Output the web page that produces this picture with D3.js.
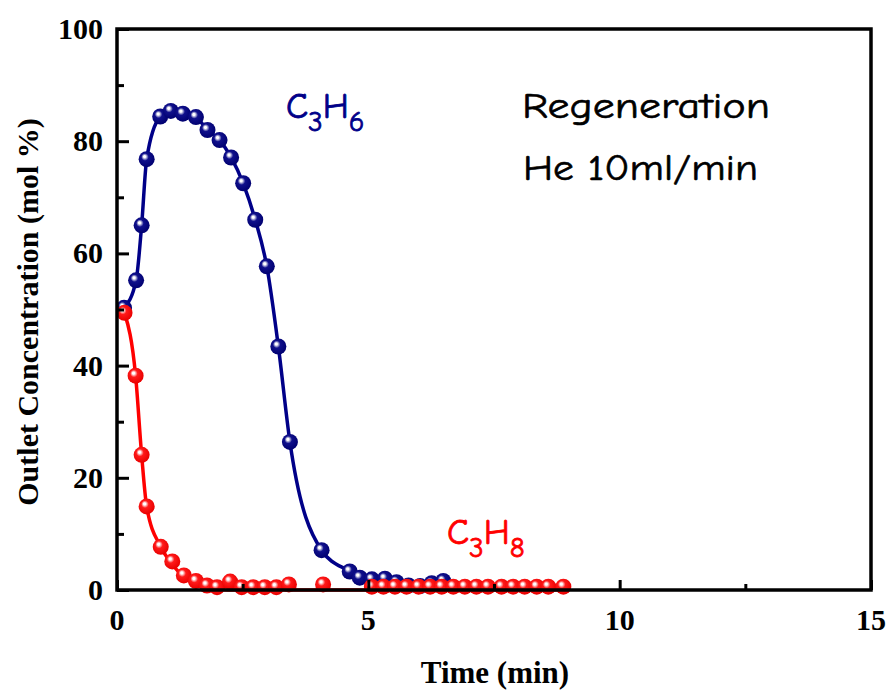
<!DOCTYPE html>
<html lang="en">
<head>
<meta charset="utf-8">
<title>Regeneration - outlet concentration</title>
<script src="https://cdn.jsdelivr.net/npm/d3@7"></script>
<style>
  body { margin: 0; background: #fff; }
</style>
</head>
<body>
<script>
// Time (min) and outlet concentration (mol %)
var c3h6Time = [0.14, 0.38, 0.49, 0.59, 0.86, 1.07, 1.31, 1.57, 1.80, 2.04, 2.27, 2.51, 2.75, 2.98, 3.21, 3.44, 4.07, 4.63, 4.83, 5.07, 5.33, 5.56, 5.80, 6.03, 6.26, 6.49];
var c3h6Conc = [50.3, 55.2, 65.0, 76.8, 84.4, 85.4, 84.9, 84.3, 82.0, 80.2, 77.1, 72.5, 66.0, 57.7, 43.4, 26.4, 7.1, 3.3, 2.2, 1.9, 2.0, 1.4, 0.8, 0.7, 1.2, 1.6];

var c3h8Time = [0.15, 0.37, 0.49, 0.59, 0.87, 1.10, 1.33, 1.57, 1.79, 1.99, 2.25, 2.48, 2.71, 2.94, 3.17, 3.42, 4.10, 5.07, 5.30, 5.53, 5.76, 6.00, 6.23, 6.46, 6.69, 6.92, 7.15, 7.38, 7.65, 7.88, 8.11, 8.35, 8.58, 8.88];
var c3h8Conc = [49.4, 38.2, 24.1, 14.9, 7.7, 5.1, 2.6, 1.6, 0.8, 0.5, 1.5, 0.5, 0.5, 0.5, 0.5, 1.0, 1.0, 0.6, 0.6, 0.6, 0.6, 0.6, 0.6, 0.6, 0.6, 0.6, 0.6, 0.6, 0.6, 0.6, 0.6, 0.6, 0.6, 0.6];

// fitted C3H8 curve as drawn in the figure
var c3h8FitTime = [0.15, 0.37, 0.49, 0.59, 0.87, 1.10, 1.33, 1.57, 1.80, 2.20, 9.0];
var c3h8FitConc = [49.4, 38.2, 24.1, 14.9, 7.7, 4.6, 2.3, 1.0, 0.3, 0, 0];

var xTicks = [0, 5, 10, 15];
var yTicks = [0, 20, 40, 60, 80, 100];

var w = 892, h = 695;
var margin = {left: 117, right: 21, top: 29, bottom: 105};

var svg = d3.select("body").append("svg")
  .attr("width", w)
  .attr("height", h);

var x = d3.scaleLinear().domain([0, 15]).range([margin.left, w - margin.right]);
var y = d3.scaleLinear().domain([0, 100]).range([h - margin.bottom, margin.top]);

// sphere-like marker gradients
var defs = svg.append("defs");
function sphere(id, base, dark) {
  var g = defs.append("radialGradient").attr("id", id)
    .attr("cx", "45%").attr("cy", "42%").attr("r", "58%")
    .attr("fx", "36%").attr("fy", "33%");
  g.append("stop").attr("offset", "0%").attr("stop-color", "#ffffff");
  g.append("stop").attr("offset", "12%").attr("stop-color", "#ffffff");
  g.append("stop").attr("offset", "40%").attr("stop-color", base);
  g.append("stop").attr("offset", "100%").attr("stop-color", dark);
}
sphere("ballBlue", "#10108c", "#000070");
sphere("ballRed", "#ff1a1a", "#e80000");

var blue = "#000088", red = "#ff0000";

// lines
var c3h6Pts = c3h6Time.map(function(t, i) { return [t, c3h6Conc[i]]; });
var c3h8Pts = c3h8Time.map(function(t, i) { return [t, c3h8Conc[i]]; });
var c3h8Fit = c3h8FitTime.map(function(t, i) { return [t, c3h8FitConc[i]]; });

var line = d3.line()
  .x(function(d) { return x(d[0]); })
  .y(function(d) { return y(d[1]); })
  .curve(d3.curveMonotoneX);

svg.append("path").datum(c3h6Pts)
  .attr("d", line).attr("fill", "none")
  .attr("stroke", blue).attr("stroke-width", 3.5);

svg.selectAll("circle.c3h6").data(c3h6Pts).enter()
  .append("circle").attr("class", "c3h6")
  .attr("cx", function(d) { return x(d[0]); })
  .attr("cy", function(d) { return y(d[1]); })
  .attr("r", 8)
  .attr("fill", "url(#ballBlue)");

svg.append("path").datum(c3h8Fit)
  .attr("d", line).attr("fill", "none")
  .attr("stroke", red).attr("stroke-width", 3.5);

svg.selectAll("circle.c3h8").data(c3h8Pts).enter()
  .append("circle").attr("class", "c3h8")
  .attr("cx", function(d) { return x(d[0]); })
  .attr("cy", function(d) { return y(d[1]); })
  .attr("r", 8)
  .attr("fill", "url(#ballRed)");

// frame
svg.append("rect")
  .attr("x", x(0)).attr("y", y(100))
  .attr("width", x(15) - x(0)).attr("height", y(0) - y(100))
  .attr("fill", "none").attr("stroke", "#000").attr("stroke-width", 3.5);

// axes with inward ticks
var xAxis = svg.append("g").attr("transform", "translate(0," + y(0) + ")")
  .call(d3.axisBottom(x).tickValues(d3.range(0, 15.1, 2.5)).tickSize(0).tickFormat(""));
xAxis.select(".domain").remove();
xAxis.selectAll(".tick line")
  .attr("y2", function(d) { return d % 5 === 0 ? -10 : -6; })
  .attr("stroke", "#000").attr("stroke-width", 3);

var yAxis = svg.append("g").attr("transform", "translate(" + x(0) + ",0)")
  .call(d3.axisLeft(y).tickValues(d3.range(0, 100.1, 10)).tickSize(0).tickFormat(""));
yAxis.select(".domain").remove();
yAxis.selectAll(".tick line")
  .attr("x2", function(d) { return d % 20 === 0 ? 12 : 7; })
  .attr("stroke", "#000").attr("stroke-width", 3);

// tick labels
var tickFont = "'Liberation Serif', 'Times New Roman', serif";
svg.selectAll("text.xt").data(xTicks).enter()
  .append("text").attr("class", "xt")
  .attr("x", function(d) { return x(d); })
  .attr("y", y(0) + 40)
  .attr("text-anchor", "middle")
  .attr("font-family", tickFont).attr("font-weight", "bold").attr("font-size", "30px")
  .text(function(d) { return d; });

svg.selectAll("text.yt").data(yTicks).enter()
  .append("text").attr("class", "yt")
  .attr("x", x(0) - 14)
  .attr("y", function(d) { return y(d) + 10; })
  .attr("text-anchor", "end")
  .attr("font-family", tickFont).attr("font-weight", "bold").attr("font-size", "30px")
  .text(function(d) { return d; });

// axis titles
svg.append("text")
  .attr("x", 495).attr("y", 683)
  .attr("text-anchor", "middle")
  .attr("font-family", tickFont).attr("font-weight", "bold").attr("font-size", "31px")
  .text("Time (min)");

svg.append("text")
  .attr("transform", "translate(38," + 312 + ") rotate(-90)")
  .attr("text-anchor", "middle")
  .attr("font-family", tickFont).attr("font-weight", "bold").attr("font-size", "30px")
  .text("Outlet Concentration (mol %)");

// annotations
var handFont = "'Comic Sans MS', 'Comic Neue', 'DejaVu Sans', sans-serif";
function formula(xp, yp, color, sub1, sub2) {
  var t = svg.append("text")
    .attr("x", xp).attr("y", yp)
    .attr("font-family", handFont).attr("font-size", "36px")
    .attr("fill", color).attr("stroke", color).attr("stroke-width", 0.8);
  t.append("tspan").text("C");
  t.append("tspan").attr("dy", 13).attr("font-size", "29px").text(sub1);
  t.append("tspan").attr("dy", -13).text("H");
  t.append("tspan").attr("dy", 13).attr("font-size", "29px").text(sub2);
}
formula(286, 118, blue, "3", "6");
formula(447, 544, red, "3", "8");

svg.append("text")
  .attr("x", 522).attr("y", 118)
  .attr("font-family", handFont).attr("font-size", "36px")
  .attr("stroke", "#000").attr("stroke-width", 0.6)
  .attr("textLength", 248).attr("lengthAdjust", "spacingAndGlyphs")
  .text("Regeneration");
svg.append("text")
  .attr("x", 523).attr("y", 180)
  .attr("font-family", handFont).attr("font-size", "36px")
  .attr("stroke", "#000").attr("stroke-width", 0.6)
  .attr("textLength", 235).attr("lengthAdjust", "spacingAndGlyphs")
  .text("He 10ml/min");
</script>
</body>
</html>
